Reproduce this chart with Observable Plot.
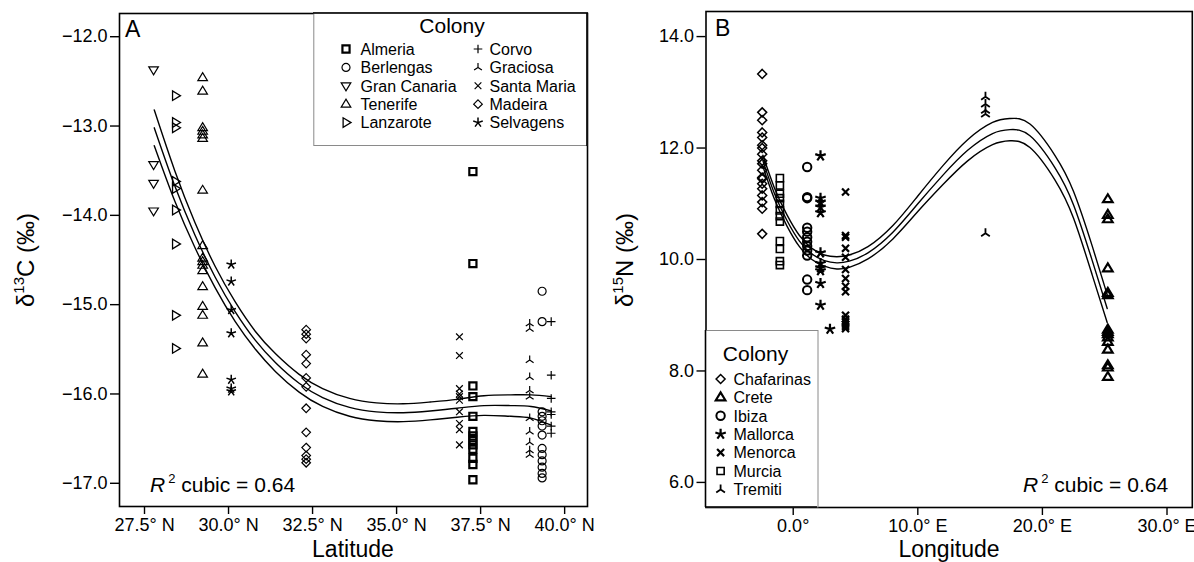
<!DOCTYPE html>
<html><head><meta charset="utf-8">
<script src="https://cdn.jsdelivr.net/npm/d3@7"></script>
<script src="https://cdn.jsdelivr.net/npm/@observablehq/plot@0.6"></script>
<style>
body{margin:0;background:#fff;}
#wrap{display:flex;width:1194px;height:562px;overflow:hidden;}
#wrap svg{display:block;flex:none;}
</style></head><body><div id="wrap"></div>
<script>
// ---------- Panel A data (δ13C vs latitude) ----------
const aColonies = ["Almeria","Berlengas","Gran Canaria","Tenerife","Lanzarote","Corvo","Graciosa","Santa Maria","Madeira","Selvagens"];
const aLatitude = [37.27, 39.33, 27.77, 29.23, 28.42, 39.60, 38.96, 36.87, 32.31, 30.08];
const almeria = [-13.51,-14.54,-15.91,-16.03,-16.25,-16.42,-16.47,-16.52,-16.57,-16.62,-16.72,-16.79,-16.96];
const berlengas = [-14.85,-15.19,-16.20,-16.25,-16.30,-16.36,-16.46,-16.61,-16.68,-16.75,-16.82,-16.89,-16.94];
const granCanaria = [-12.37,-13.43,-13.64,-13.95];
const tenerife = [-12.46,-12.61,-13.02,-13.06,-13.10,-13.14,-13.72,-14.34,-14.48,-14.52,-14.56,-14.62,-14.80,-15.02,-15.12,-15.43,-15.78];
const lanzarote = [-12.66,-12.96,-13.02,-13.62,-13.70,-13.94,-14.32,-15.12,-15.49];
const corvo = [-15.19,-15.79,-16.05,-16.20,-16.23,-16.36,-16.44];
const graciosa = [-15.21,-15.27,-15.62,-15.81,-15.96,-16.03,-16.27,-16.42,-16.54,-16.63,-16.68];
const santaMaria = [-15.36,-15.57,-15.94,-16.00,-16.03,-16.07,-16.20,-16.33,-16.40,-16.57];
const madeira = [-15.28,-15.33,-15.38,-15.56,-15.66,-15.82,-15.92,-16.16,-16.43,-16.60,-16.69,-16.73,-16.77];
const selvagens = [-14.55,-14.74,-15.06,-15.32,-15.84,-15.94,-15.97];
const aValues = [almeria, berlengas, granCanaria, tenerife, lanzarote, corvo, graciosa, santaMaria, madeira, selvagens];

// cubic fit with confidence band
const aCurveLat = [27.79,28.4,29.0,29.6,30.2,30.8,31.4,32.1,32.8,33.6,34.4,35.2,36.0,36.8,37.6,38.4,39.0,39.6];
const aFitMid   = [-13.02,-13.67,-14.22,-14.69,-15.08,-15.40,-15.65,-15.88,-16.04,-16.15,-16.20,-16.21,-16.19,-16.16,-16.13,-16.13,-16.14,-16.19];
const aFitUpper = [-12.82,-13.50,-14.08,-14.57,-14.97,-15.30,-15.55,-15.78,-15.94,-16.05,-16.10,-16.11,-16.09,-16.06,-16.02,-16.01,-16.01,-16.03];
const aFitLower = [-13.22,-13.84,-14.36,-14.81,-15.19,-15.50,-15.75,-15.98,-16.14,-16.25,-16.30,-16.31,-16.29,-16.26,-16.24,-16.25,-16.27,-16.35];
const aXTicks = [27.5, 30, 32.5, 35, 37.5, 40];
const aYTicks = [-17, -16, -15, -14, -13, -12];
const aLegendCol1 = ["Almeria","Berlengas","Gran Canaria","Tenerife","Lanzarote"];
const aLegendCol2 = ["Corvo","Graciosa","Santa Maria","Madeira","Selvagens"];

// ---------- Panel B data (δ15N vs longitude) ----------
const bColonies = ["Chafarinas","Crete","Ibiza","Mallorca","Menorca","Murcia","Tremiti"];
const bLongitude = [-2.49, 25.25, 1.12, 2.19, 4.20, -1.07, 15.43];
const chafarinas = [13.33,12.64,12.50,12.28,12.19,12.05,12.00,11.89,11.77,11.72,11.60,11.47,11.45,11.36,11.27,11.15,11.03,10.91,10.46];
const crete = [11.08,10.80,10.72,9.84,9.40,9.36,8.74,8.70,8.66,8.60,8.52,8.38,8.10,8.06,7.89];
const ibiza = [11.66,11.12,11.10,10.57,10.50,10.40,10.32,10.24,10.16,10.07,9.64,9.45];
const mallorca = [11.86,11.10,11.03,10.94,10.84,10.12,9.93,9.85,9.80,9.57,9.18];
const menorca = [11.21,10.43,10.40,10.20,10.04,9.82,9.66,9.52,9.42,9.00,8.93,8.88,8.84,8.80,8.76];
const murcia = [11.46,11.33,11.18,11.10,11.00,10.88,10.78,10.68,10.33,10.19,9.97,9.90];
const tremiti = [12.92,12.79,12.68,12.61,10.47];
const bValues = [chafarinas, crete, ibiza, mallorca, menorca, murcia, tremiti];
// one Mallorca bird plotted slightly east of the others
const mallorcaEastLon = [2.95];
const mallorcaEast = [8.75];

const bCurveLon = [-2.43,-1.5,-0.5,0.5,1.5,2.5,3.5,4.5,6,8,10,12,14,16,17.4,19,21,22.5,24,25.2];
const bFitMid   = [11.77,11.18,10.70,10.33,10.10,9.98,9.94,9.97,10.12,10.49,11.00,11.51,11.96,12.26,12.33,12.22,11.65,10.98,9.98,9.12];
const bFitUpper = [11.87,11.28,10.80,10.43,10.20,10.08,10.05,10.08,10.23,10.61,11.14,11.68,12.15,12.46,12.53,12.43,11.87,11.22,10.24,9.37];
const bFitLower = [11.67,11.08,10.60,10.23,10.00,9.88,9.83,9.86,10.01,10.37,10.86,11.34,11.77,12.06,12.13,12.01,11.43,10.74,9.72,8.87];
const bXTicks = [0, 10, 20, 30];
const bYTicks = [6, 8, 10, 12, 14];
const bLegend = ["Chafarinas","Crete","Ibiza","Mallorca","Menorca","Murcia","Tremiti"];

// ---------- symbols (R-like plotting characters) ----------
function sym(fn){ return {draw(c, size){ const r = Math.sqrt(size/Math.PI); fn(c, r); }}; }
const SHAPES = {
  square: sym((c,r)=>{const s=r*0.85; c.moveTo(-s,-s); c.lineTo(s,-s); c.lineTo(s,s); c.lineTo(-s,s); c.closePath();}),
  circle: sym((c,r)=>{c.moveTo(r,0); c.arc(0,0,r,0,2*Math.PI);}),
  triDown: sym((c,r)=>{c.moveTo(-r,-0.6*r); c.lineTo(r,-0.6*r); c.lineTo(0,1.05*r); c.closePath();}),
  triUp: sym((c,r)=>{c.moveTo(-r,0.6*r); c.lineTo(r,0.6*r); c.lineTo(0,-1.05*r); c.closePath();}),
  triRight: sym((c,r)=>{c.moveTo(-0.6*r,-r); c.lineTo(-0.6*r,r); c.lineTo(1.05*r,0); c.closePath();}),
  plus: sym((c,r)=>{c.moveTo(-r,0); c.lineTo(r,0); c.moveTo(0,-r); c.lineTo(0,r);}),
  cross: sym((c,r)=>{const s=r*0.78; c.moveTo(-s,-s); c.lineTo(s,s); c.moveTo(-s,s); c.lineTo(s,-s);}),
  branch: sym((c,r)=>{c.moveTo(0,0); c.lineTo(0,-r); c.moveTo(0,0); c.lineTo(-0.87*r,0.6*r); c.moveTo(0,0); c.lineTo(0.87*r,0.6*r);}),
  diamond: sym((c,r)=>{c.moveTo(0,-r); c.lineTo(r,0); c.lineTo(0,r); c.lineTo(-r,0); c.closePath();}),
  star: sym((c,r)=>{for(let k=0;k<5;k++){const a=(-90+72*k)*Math.PI/180; c.moveTo(0,0); c.lineTo(r*Math.cos(a), r*Math.sin(a));}})
};
const styleA = {
  "Almeria":{s:"square",r:4.2,w:2.2}, "Berlengas":{s:"circle",r:4,w:1.2}, "Gran Canaria":{s:"triDown",r:4.8,w:1.2},
  "Tenerife":{s:"triUp",r:4.8,w:1.2}, "Lanzarote":{s:"triRight",r:4.8,w:1.3}, "Corvo":{s:"plus",r:4.3,w:1.2},
  "Graciosa":{s:"branch",r:4.5,w:1.2}, "Santa Maria":{s:"cross",r:4.3,w:1.2}, "Madeira":{s:"diamond",r:4.3,w:1.2},
  "Selvagens":{s:"star",r:5,w:1.5}
};
const styleB = {
  "Chafarinas":{s:"diamond",r:4.5,w:1.5}, "Crete":{s:"triUp",r:4.8,w:2.2}, "Ibiza":{s:"circle",r:4.2,w:2},
  "Mallorca":{s:"star",r:5.5,w:2.2}, "Menorca":{s:"cross",r:4.5,w:2.2}, "Murcia":{s:"square",r:4.2,w:1.6},
  "Tremiti":{s:"branch",r:5,w:1.8}
};

const FONT = "'Liberation Sans', Arial, Helvetica, sans-serif";
const TICKFONT = 18;
const W = 597, H = 562;
const fmtMinus = d => (d < 0 ? "\u2212" : "") + Math.abs(d).toFixed(1);

function dotMarks(colonies, positions, values, style, xKey, yKey){
  return colonies.map((c,i) => {
    const rows = values[i].map(v => ({colony:c, [xKey]: positions[i], [yKey]: v}));
    const st = style[c];
    return Plot.dot(rows, {x:xKey, y:yKey, symbol: SHAPES[st.s], r: st.r, stroke:"black", fill:"none", strokeWidth: st.w});
  });
}
function curveRows(xs, bands, xKey){
  const out = [];
  bands.forEach(([name, arr]) => arr.forEach((v,i) => out.push({band:name, [xKey]: xs[i], v})));
  return out;
}
function symPath(name, r){ const p = d3.path(); SHAPES[name].draw(p, Math.PI*r*r); return p.toString(); }

// ---------- Panel A ----------
const curvesA = curveRows(aCurveLat, [["upper",aFitUpper],["fit",aFitMid],["lower",aFitLower]], "lat");
const svgA = Plot.plot({
  width: W, height: H,
  marginLeft: 119, marginRight: 10, marginTop: 13, marginBottom: 56,
  x: {domain: [26.756, 40.68], inset: 0},
  y: {domain: [-17.26, -11.74], inset: 0},
  style: {fontFamily: FONT, background: "white", color: "black", overflow: "visible"},
  marks: [
    ...dotMarks(aColonies, aLatitude, aValues, styleA, "lat", "d13C"),
    Plot.line(curvesA, {x:"lat", y:"v", z:"band", curve:"natural", stroke:"black", strokeWidth:1.4}),
    Plot.frame({stroke:"black", strokeWidth:1.6}),
    Plot.axisX({ticks: aXTicks, tickFormat: d => d.toFixed(1) + "\u00b0 N", tickSize: 8, tickPadding: 4, fontSize: TICKFONT, label: null, strokeWidth: 1.4}),
    Plot.axisY({ticks: aYTicks, tickFormat: fmtMinus, tickSize: 9, tickPadding: 3, fontSize: TICKFONT, label: null, strokeWidth: 1.4})
  ]
});

// ---------- Panel B ----------
const curvesB = curveRows(bCurveLon, [["upper",bFitUpper],["fit",bFitMid],["lower",bFitLower]], "lon");
const svgB = Plot.plot({
  width: W, height: H,
  marginLeft: 108.5, marginRight: 2.2, marginTop: 11, marginBottom: 55,
  x: {domain: [-7.0, 32.03], inset: 0},
  y: {domain: [5.55, 14.45], inset: 0},
  style: {fontFamily: FONT, background: "white", color: "black", overflow: "visible"},
  marks: [
    ...dotMarks(bColonies, bLongitude, bValues, styleB, "lon", "d15N"),
    Plot.dot(mallorcaEast.map((v,i)=>({lon: mallorcaEastLon[i], d15N: v})), {x:"lon", y:"d15N", symbol: SHAPES.star, r: styleB.Mallorca.r, stroke:"black", fill:"none", strokeWidth: styleB.Mallorca.w}),
    Plot.line(curvesB, {x:"lon", y:"v", z:"band", curve:"natural", stroke:"black", strokeWidth:1.4}),
    Plot.frame({stroke:"black", strokeWidth:1.6}),
    Plot.axisX({ticks: bXTicks, tickFormat: d => d === 0 ? "0.0\u00b0" : d.toFixed(1) + "\u00b0 E", tickSize: 8, tickPadding: 4, fontSize: TICKFONT, label: null, strokeWidth: 1.4}),
    Plot.axisY({ticks: bYTicks, tickFormat: d => d.toFixed(1), tickSize: 9, tickPadding: 3, fontSize: TICKFONT, label: null, strokeWidth: 1.4})
  ]
});

const wrap = document.getElementById("wrap");
wrap.appendChild(svgA); wrap.appendChild(svgB);

// ---------- annotations, titles, legends ----------
function addText(sel, x, y, txt, size, anchor){
  return sel.append("text").attr("x", x).attr("y", y).attr("font-size", size)
    .attr("font-family", FONT).attr("fill", "black").attr("text-anchor", anchor || "start").text(txt);
}
function yTitle(sel, x, y, iso, elem){
  const t = sel.append("text").attr("transform", `translate(${x},${y}) rotate(-90)`)
    .attr("text-anchor", "middle").attr("font-family", FONT).attr("font-size", 24).attr("fill", "black");
  t.append("tspan").text("\u03b4");
  t.append("tspan").attr("font-size", 15).attr("dy", -10).text(iso);
  t.append("tspan").attr("dy", 10).text(elem + " (\u2030)");
}
function r2(sel, x, y){
  const t = sel.append("text").attr("x", x).attr("y", y).attr("text-anchor", "start")
    .attr("font-family", FONT).attr("font-size", 21).attr("fill", "black");
  t.append("tspan").attr("font-style", "italic").text("R");
  t.append("tspan").attr("font-size", 13).attr("dy", -9).attr("dx", 3).text("2");
  t.append("tspan").attr("dy", 9).text(" cubic = 0.64");
}
function legendEntry(sel, name, style, sx, tx, cy){
  const st = style[name];
  sel.append("path").attr("d", symPath(st.s, st.r)).attr("transform", `translate(${sx},${cy})`)
    .attr("fill", "none").attr("stroke", "black").attr("stroke-width", st.w);
  addText(sel, tx, cy + 5.8, name, 16);
}

const A = d3.select(svgA);
addText(A, 125, 37, "A", 23);
addText(A, 353, 557, "Latitude", 23, "middle");
yTitle(A, 34, 260, "13", "C");
r2(A, 150, 492);
A.append("rect").attr("x", 313.8).attr("y", 13).attr("width", 587 - 313.8).attr("height", 145.5 - 13)
  .attr("fill", "white").attr("stroke", "#8a8a8a").attr("stroke-width", 1);
addText(A, 452, 33, "Colony", 21, "middle");
aLegendCol1.forEach((n,i) => legendEntry(A, n, styleA, 346, 360.5, 49 + 18.4*i));
aLegendCol2.forEach((n,i) => legendEntry(A, n, styleA, 478, 489.5, 49 + 18.4*i));
A.append("line").attr("x1", 587).attr("x2", 587).attr("y1", 13).attr("y2", 146).attr("stroke", "black").attr("stroke-width", 1.6);
A.append("line").attr("x1", 313).attr("x2", 588).attr("y1", 13).attr("y2", 13).attr("stroke", "black").attr("stroke-width", 1.6);

const B = d3.select(svgB);
addText(B, 118, 36, "B", 23);
addText(B, 352, 557, "Longitude", 23, "middle");
yTitle(B, 36, 260, "15", "N");
r2(B, 426, 492);
B.append("rect").attr("x", 108.5).attr("y", 330.5).attr("width", 818 - 705.5).attr("height", 507 - 330.5)
  .attr("fill", "white").attr("stroke", "#8a8a8a").attr("stroke-width", 1);
addText(B, 158.5, 361, "Colony", 21, "middle");
bLegend.forEach((n,i) => legendEntry(B, n, styleB, 123.6, 136.5, 379 + 18.4*i));
B.append("line").attr("x1", 108.5).attr("x2", 108.5).attr("y1", 330).attr("y2", 507).attr("stroke", "black").attr("stroke-width", 1.6);
B.append("line").attr("x1", 108).attr("x2", 220).attr("y1", 507).attr("y2", 507).attr("stroke", "black").attr("stroke-width", 1.6);
</script></body></html>
